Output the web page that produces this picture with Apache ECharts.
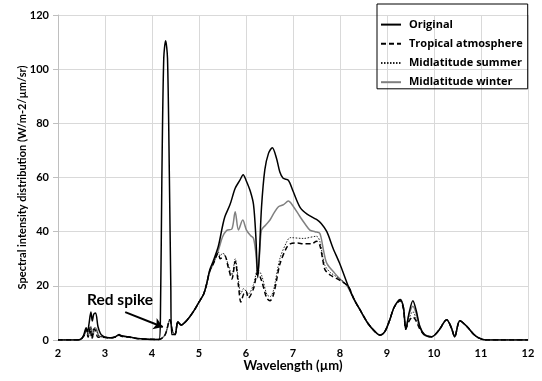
<!DOCTYPE html>
<html><head><meta charset="utf-8">
<script src="https://cdn.jsdelivr.net/npm/echarts@6/dist/echarts.min.js"></script>
<style>html,body{margin:0;padding:0;background:#fff}#c{width:542px;height:381px}</style>
</head><body><div id="c"></div>
<script>
var seriesNames = ['Original', 'Tropical atmosphere', 'Midlatitude summer', 'Midlatitude winter'];
var xTicks = [2,3,4,5,6,7,8,9,10,11,12];
var yTicks = [0,20,40,60,80,100,120];

var origX = [2.0,2.4,2.5,2.55,2.6,2.63,2.66,2.7,2.73,2.76,2.8,2.85,2.9,2.95,3.0,3.1,3.2,3.3,3.35,3.5,3.7,3.9,4.0,4.15,4.18,4.21,4.25,4.29,4.33,4.37,4.40,4.42,4.49,4.55,4.62,4.7,4.8,4.9,5.0,5.1,5.16,5.23,5.3,5.41,5.5,5.55,5.66,5.77,5.87,5.94,6.0,6.09,6.16,6.21,6.25,6.29,6.33,6.4,6.48,6.56,6.65,6.72,6.79,6.9,7.0,7.15,7.3,7.5,7.6,7.72,7.85,8.0,8.18,8.3,8.43,8.6,8.75,8.85,8.95,9.05,9.15,9.28,9.35,9.40,9.47,9.55,9.62,9.7,9.8,9.95,10.1,10.27,10.37,10.44,10.55,10.7,10.85,10.95,11.1,12.0];
var origY = [0,0,0.5,2,4.5,3,6,10.3,7,9.5,10,5,2.5,1.5,1,0.8,1,2,1.6,1.2,0.6,0.3,0.2,0.2,10,60,104,110.5,104,60,20,2,2,6.7,5.5,6.5,8.5,11,14,17,20.5,26,29,34.5,42,45.5,50,56,59,61,59,55,50,38,23,34,49,62.8,69,71,67,62,59.7,59,55,49,46.5,44.5,43,40,34,28,19.7,15,11,6,3,1.8,3,7,12,15,12,4,10,14.5,11,5,2,1.2,3.5,7.5,4.5,1.2,7.1,5,2,0.8,0,0];

var tropX = [2.0,2.45,2.55,2.6,2.64,2.68,2.72,2.76,2.8,2.85,2.95,3.1,3.2,3.3,3.35,3.5,3.7,3.9,4.15,4.28,4.38,4.44,4.49,4.55,4.62,4.7,4.8,4.9,5.0,5.1,5.16,5.23,5.3,5.41,5.45,5.5,5.55,5.62,5.70,5.77,5.84,5.89,5.95,6.0,6.05,6.16,6.25,6.33,6.44,6.51,6.58,6.65,6.72,6.86,6.94,7.1,7.22,7.4,7.5,7.57,7.63,7.68,7.79,8.0,8.18,8.3,8.43,8.6,8.75,8.85,8.95,9.05,9.15,9.28,9.35,9.40,9.47,9.55,9.62,9.7,9.8,9.95,10.1,10.27,10.37,10.44,10.55,10.7,10.85,10.95,11.1,12.0];
var tropY = [0,0,1.5,4,1,4.5,0.5,4,3.5,1,1,0.8,1,1.8,1.4,1.1,0.5,0.3,0.2,2,7.5,3,2,6.7,5.5,6.5,8.5,11,14,17,20.5,25.5,28,32,30,30.5,31,27,22.5,29,20,14,17,18,15.5,19,25,22,15.5,14.5,16.5,22,28,34,35.5,35.8,35.5,35.5,36.5,35,30,26,24,22,19.7,15,11,6,3,1.8,3,7,12,14.5,11.5,4,7,8.5,7,4,1.8,1.2,3.5,7.5,4.5,1.2,7.1,5,2,0.8,0,0];

var summX = [2.0,2.45,2.55,2.6,2.65,2.7,2.74,2.78,2.82,2.87,2.95,3.1,3.2,3.3,3.35,3.5,3.7,3.9,4.15,4.28,4.38,4.44,4.49,4.55,4.62,4.7,4.8,4.9,5.0,5.1,5.16,5.23,5.3,5.41,5.45,5.5,5.55,5.62,5.70,5.77,5.84,5.89,5.95,6.05,6.16,6.25,6.33,6.44,6.51,6.58,6.72,6.86,6.94,7.22,7.5,7.57,7.63,7.68,7.79,8.0,8.18,8.3,8.43,8.6,8.75,8.85,8.95,9.05,9.15,9.28,9.35,9.40,9.47,9.55,9.62,9.7,9.8,9.95,10.1,10.27,10.37,10.44,10.55,10.7,10.85,10.95,11.1,12.0];
var summY = [0,0,1.5,3.5,1.5,4.5,1,4.5,3.5,1.5,1.2,0.8,1,1.8,1.4,1.1,0.5,0.3,0.2,2,7.5,3,2,6.7,5.5,6.5,8.5,11,14,17,20.5,25.5,28,32.5,31,32,31.5,28,24,30,22,17,19,17,20.5,26,24,17,16,18,30,36,37.8,37.5,38.3,36.5,31,27.5,25,22.5,19.7,15,11,6,3,1.8,3,7,12,14.8,11.8,4,8,10.5,8,4.5,1.8,1.2,3.5,7.5,4.5,1.2,7.1,5,2,0.8,0,0];

var wintX = [2.0,2.45,2.55,2.6,2.65,2.7,2.74,2.78,2.82,2.87,2.95,3.1,3.2,3.3,3.35,3.5,3.7,3.9,4.15,4.28,4.38,4.44,4.49,4.55,4.62,4.7,4.8,4.9,5.0,5.1,5.16,5.23,5.3,5.41,5.5,5.59,5.7,5.77,5.84,5.93,6.01,6.1,6.16,6.21,6.25,6.29,6.33,6.42,6.51,6.6,6.69,6.8,6.9,7.0,7.15,7.25,7.36,7.47,7.57,7.65,7.72,7.89,8.0,8.14,8.3,8.43,8.6,8.75,8.85,8.95,9.05,9.15,9.28,9.35,9.40,9.47,9.55,9.62,9.7,9.8,9.95,10.1,10.27,10.37,10.44,10.55,10.7,10.85,10.95,11.1,12.0];
var wintY = [0,0,1.5,3.5,2,5,1,4.5,4,1.5,1.2,0.8,1,1.8,1.4,1.1,0.5,0.3,0.2,2,7.5,3,2,6.7,5.5,6.5,8.5,11,14,17,20.5,25.5,28,33,38,40.5,41,47.4,40.6,44.3,40.6,38.5,37.5,32,24,32,40.6,42.5,44.3,47,49.2,50,51.3,49.5,45.5,43,40.6,40,39.4,33,28.3,24.6,22.5,20.3,15,11,6,3,1.8,3,7,12,15,12,4,9.5,12.5,10,4.8,1.8,1.2,3.5,7.5,4.5,1.2,7.1,5,2,0.8,0,0];

function pairs(xs, ys){ return xs.map(function(x,i){ return [x, ys[i]]; }); }

var FONT = 'Lato';
var chart = echarts.init(document.getElementById('c'), null, {renderer:'canvas'});
chart.setOption({
  animation: false,
  backgroundColor: '#fff',
  grid: {left: 58, right: 14, top: 15, bottom: 41},
  legend: {
    orient: 'vertical', left: 377, top: 4,
    padding: [15, 5, 1, 3],
    borderColor: '#000', borderWidth: 1,
    itemWidth: 20, itemHeight: 14, itemGap: 8,
    itemStyle: {opacity: 0},
    textStyle: {fontFamily: 'Open Sans', fontWeight: 'bold', fontSize: 11, color: '#000', padding: [0,0,0,3]},
    data: seriesNames
  },
  xAxis: {
    type: 'value', min: 2, max: 12, interval: 1,
    name: 'Wavelength (µm)', nameLocation: 'middle', nameGap: 19, nameMoveOverlap: false,
    nameTextStyle: {fontFamily: FONT, fontWeight: 'bold', fontSize: 13, color: '#000'},
    axisLine: {show: true, lineStyle: {color: '#bfbfbf'}},
    axisTick: {show: false},
    axisLabel: {fontFamily: FONT, fontWeight: 'bold', fontSize: 11, color: '#000', margin: 8,
      formatter: function(v){ return xTicks.indexOf(v) >= 0 ? String(v) : ''; }},
    splitLine: {show: true, lineStyle: {color: '#d9d9d9', width: 1}}
  },
  yAxis: {
    type: 'value', min: 0, max: 120, interval: 20,
    name: 'Spectral intensity distribution (W/m-2/µm/sr)', nameLocation: 'middle', nameGap: 30, nameMoveOverlap: false,
    nameTextStyle: {fontFamily: FONT, fontWeight: 'bold', fontSize: 11, color: '#000'},
    axisLine: {show: true, lineStyle: {color: '#bfbfbf'}},
    axisTick: {show: true, length: 5, lineStyle: {color: '#bfbfbf'}},
    axisLabel: {fontFamily: FONT, fontWeight: 'bold', fontSize: 11, color: '#000', margin: 9,
      formatter: function(v){ return yTicks.indexOf(v) >= 0 ? String(v) : ''; }},
    splitLine: {show: true, lineStyle: {color: '#d9d9d9', width: 1}}
  },
  series: [
    {name: seriesNames[3], type: 'line', data: pairs(wintX, wintY), showSymbol: false, symbol: 'none',
      smooth: 0.3, lineStyle: {color: '#808080', width: 1.5}, itemStyle: {color: '#808080'}, z: 2},
    {name: seriesNames[2], type: 'line', data: pairs(summX, summY), showSymbol: false, symbol: 'none',
      smooth: 0.3, lineStyle: {color: '#222', width: 1, type: [1.5, 1.5]}, itemStyle: {color: '#222'}, z: 3},
    {name: seriesNames[1], type: 'line', data: pairs(tropX, tropY), showSymbol: false, symbol: 'none',
      smooth: 0.3, lineStyle: {color: '#000', width: 1.5, type: [5, 3]}, itemStyle: {color: '#000'}, z: 4},
    {name: seriesNames[0], type: 'line', data: pairs(origX, origY), showSymbol: false, symbol: 'none',
      smooth: 0.3, lineStyle: {color: '#000', width: 1.5}, itemStyle: {color: '#000'}, z: 5,
      markLine: {silent: true, symbol: ['none', 'arrow'], symbolSize: 9,
        lineStyle: {color: '#000', width: 2, type: 'solid'}, label: {show: false},
        data: [[{coord: [3.43, 10.3]}, {coord: [4.23, 4.8]}]]},
      markPoint: {silent: true, symbol: 'circle', symbolSize: 0,
        label: {show: true, formatter: 'Red spike', fontFamily: FONT, fontWeight: 'bold', fontSize: 15.5, color: '#000'},
        data: [{coord: [3.32, 14.8]}]}
    }
  ]
});
</script></body></html>
